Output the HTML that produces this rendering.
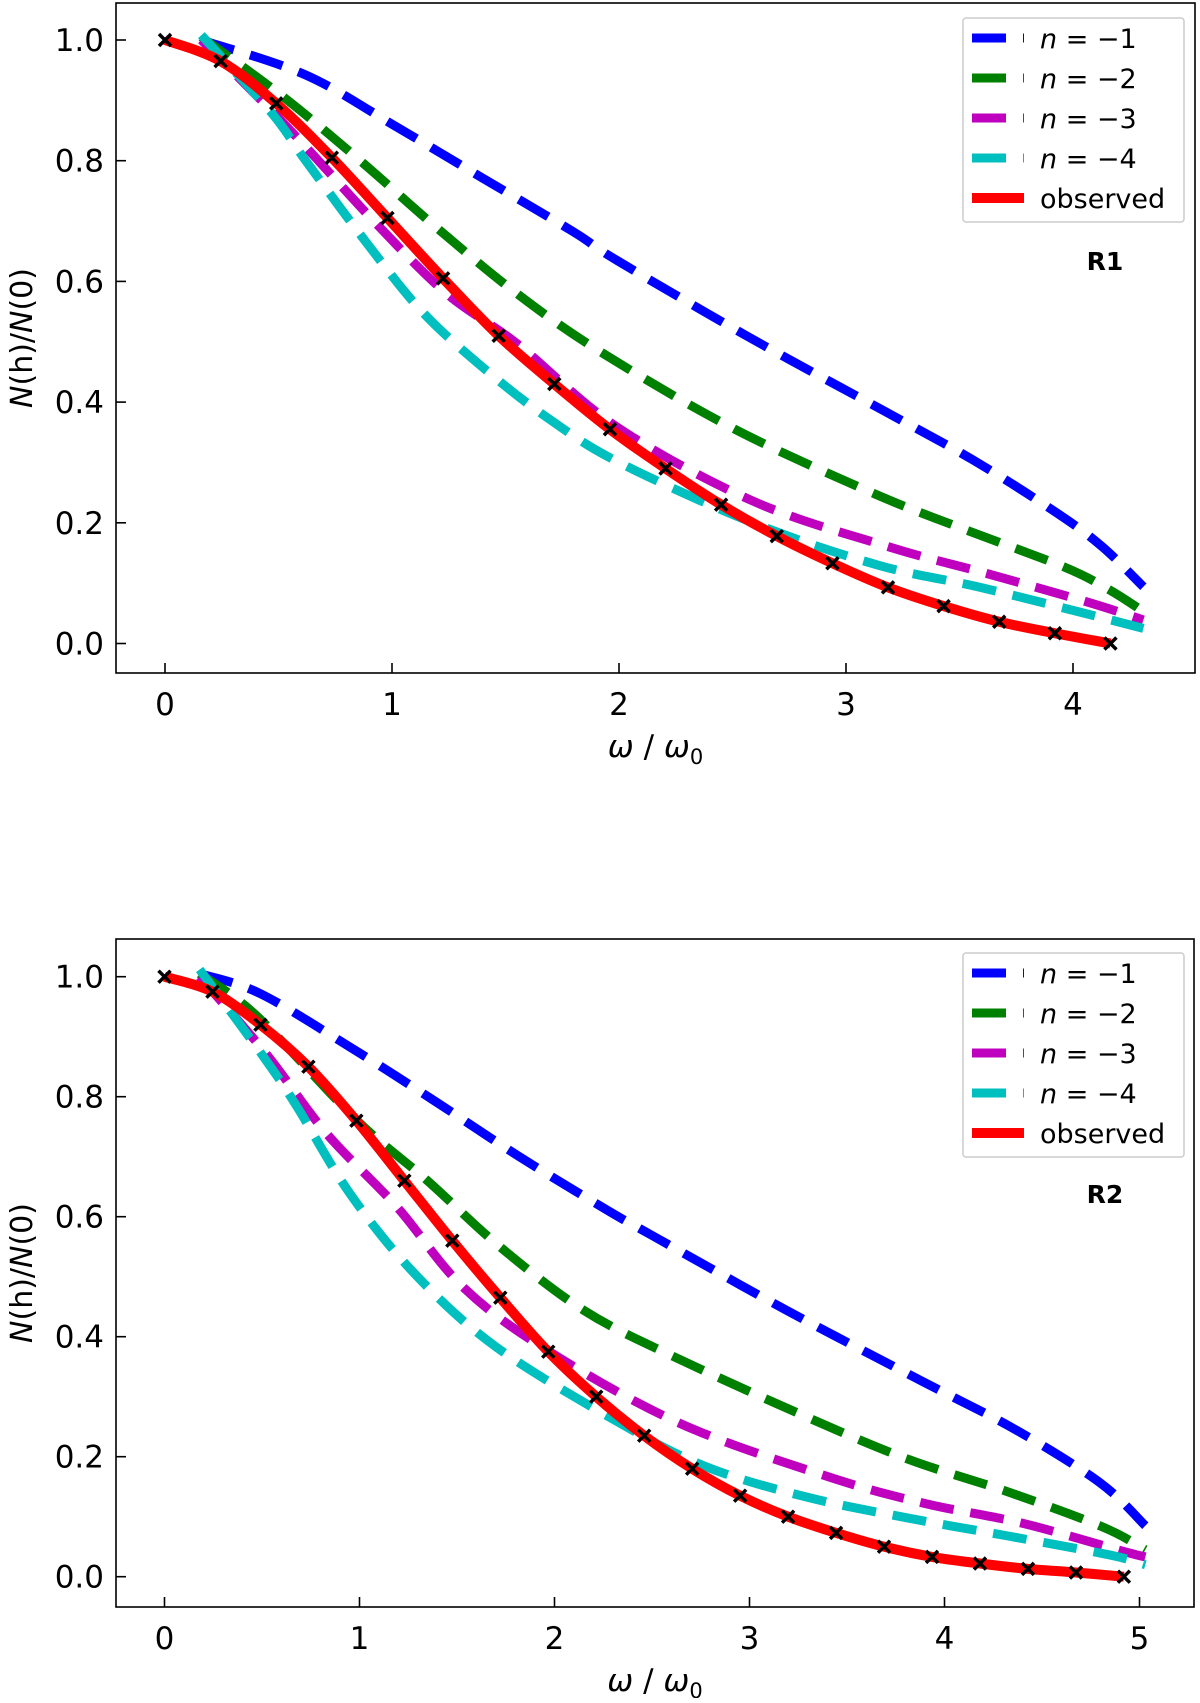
<!DOCTYPE html>
<html><head><meta charset="utf-8"><style>
body{margin:0;background:#fff;}
svg text{font-family:"DejaVu Sans","Liberation Sans",sans-serif;}
</style></head><body>
<svg id="chart" width="1200" height="1698" viewBox="0 0 1200 1698" xmlns="http://www.w3.org/2000/svg"></svg>
<script>
// ---- Panel R1 data ----
const r1N1X = [0.16,0.62,1.02,1.40,1.80,1.99,2.58,3.16,3.56,3.93,4.13,4.31];
const r1N1 = [1.0,0.942,0.856,0.771,0.682,0.635,0.506,0.387,0.304,0.216,0.16,0.094];
const r1N2X = [0.16,0.52,0.86,1.20,1.55,1.92,2.50,3.12,3.53,3.96,4.16,4.31];
const r1N2 = [1.005,0.906,0.80,0.688,0.58,0.483,0.357,0.249,0.188,0.127,0.089,0.053];
const r1N3X = [0.16,0.45,0.62,0.93,1.24,1.55,1.99,2.59,3.19,3.62,4.06,4.31];
const r1N3 = [1.0,0.89,0.823,0.696,0.58,0.497,0.359,0.236,0.16,0.116,0.069,0.039];
const r1N4X = [0.16,0.47,0.62,0.89,1.14,1.43,1.70,2.0,2.59,3.14,3.58,4.02,4.31];
const r1N4 = [1.008,0.879,0.80,0.663,0.547,0.448,0.37,0.30,0.2,0.13,0.094,0.053,0.025];
const r1ObsX = [0,0.245,0.49,0.735,0.98,1.225,1.47,1.715,1.96,2.205,2.45,2.695,2.94,3.185,3.43,3.675,3.92,4.165];
const r1Obs = [1.0,0.965,0.895,0.805,0.705,0.605,0.51,0.43,0.355,0.29,0.23,0.178,0.133,0.093,0.062,0.036,0.017,0.0];
// ---- Panel R2 data ----
const r2N1X = [0.18,0.49,0.95,1.38,1.82,2.27,2.51,3.19,3.89,4.37,4.80,5.03];
const r2N1 = [1.005,0.972,0.883,0.794,0.70,0.611,0.567,0.444,0.325,0.244,0.156,0.085];
const r2N2X = [0.18,0.475,0.985,1.345,1.72,2.15,2.61,3.33,3.82,4.32,4.81,5.03];
const r2N2 = [1.005,0.934,0.761,0.661,0.55,0.444,0.367,0.261,0.195,0.142,0.083,0.045];
const r2N3X = [0.18,0.52,0.83,1.19,1.53,1.96,2.64,3.40,3.90,4.40,4.92,5.03];
const r2N3 = [1.0,0.872,0.739,0.617,0.483,0.378,0.256,0.167,0.122,0.089,0.042,0.033];
const r2N4X = [0.18,0.52,0.68,0.95,1.28,1.70,2.33,2.78,3.29,3.81,4.34,4.85,5.03];
const r2N4 = [1.012,0.861,0.783,0.639,0.506,0.383,0.257,0.183,0.133,0.098,0.067,0.036,0.02];
const r2ObsX = [0,0.246,0.492,0.738,0.984,1.23,1.476,1.722,1.968,2.214,2.46,2.706,2.952,3.198,3.444,3.69,3.936,4.182,4.428,4.674,4.92];
const r2Obs = [1.0,0.975,0.92,0.85,0.76,0.66,0.56,0.465,0.375,0.30,0.235,0.18,0.135,0.10,0.073,0.05,0.033,0.022,0.013,0.007,0.0];
const yTicks = [0,0.2,0.4,0.6,0.8,1.0];
const yTickLabels = ["0.0","0.2","0.4","0.6","0.8","1.0"];
const r1XTicks = [0,1,2,3,4];
const r2XTicks = [0,1,2,3,4,5];
const legendLabels = ["n = \u22121","n = \u22122","n = \u22123","n = \u22124","observed"];
const colors = ["#0000ff","#008000","#bf00bf","#00bfbf","#ff0000"];

const NS="http://www.w3.org/2000/svg";
const svg=document.getElementById('chart');
function mk(tag,attrs,parent){const e=document.createElementNS(NS,tag);for(const k in attrs)e.setAttribute(k,attrs[k]);(parent||svg).appendChild(e);return e;}
function smoothPath(pts){
  let d=`M${pts[0][0]},${pts[0][1]}`;
  for(let i=0;i<pts.length-1;i++){
    const p0=pts[i-1]||pts[i],p1=pts[i],p2=pts[i+1],p3=pts[i+2]||p2;
    const c1=[p1[0]+(p2[0]-p0[0])/6,p1[1]+(p2[1]-p0[1])/6];
    const c2=[p2[0]-(p3[0]-p1[0])/6,p2[1]-(p3[1]-p1[1])/6];
    d+=` C${c1[0]},${c1[1]} ${c2[0]},${c2[1]} ${p2[0]},${p2[1]}`;
  }
  return d;
}
function panel(cfg){
  const g=mk('g',{});
  
  
  const sx=v=>cfg.x0+v*cfg.xu, sy=v=>cfg.y0-v*cfg.yu;
  const sNames=['series-n-1','series-n-2','series-n-3','series-n-4'];
  cfg.series.forEach((s,i)=>{
    const p=mk('path',{d:smoothPath(s[0].map((x,j)=>[sx(x),sy(s[1][j])])),fill:'none',stroke:colors[i],'stroke-width':9,'stroke-dasharray':'34 17'},g);
    
    
  });
  const obs=mk('path',{d:smoothPath(cfg.ox.map((x,j)=>[sx(x),sy(cfg.obs[j])])),fill:'none',stroke:colors[4],'stroke-width':10},g);
  
  
  cfg.ox.forEach((x,j)=>{
    const cx=sx(x),cy=sy(cfg.obs[j]);
    const m=mk('path',{d:`M${cx-6},${cy-6}L${cx+6},${cy+6}M${cx-6},${cy+6}L${cx+6},${cy-6}`,stroke:'#000','stroke-width':3.5},g);
    
    
  });
  const frame=mk('rect',{x:cfg.L,y:cfg.T,width:cfg.R-cfg.L,height:cfg.B-cfg.T,fill:'none',stroke:'#000','stroke-width':1.6},g);
  
  
  yTicks.forEach((v,i)=>{
    const y=sy(v);
    mk('line',{x1:cfg.L,x2:cfg.L+10,y1:y,y2:y,stroke:'#000','stroke-width':1.6},g);
    const t=mk('text',{x:cfg.L-12,y:y+11,'text-anchor':'end','font-size':31},g);
    t.textContent=yTickLabels[i];
    
    
  });
  cfg.xt.forEach(v=>{
    const x=sx(v);
    mk('line',{x1:x,x2:x,y1:cfg.B,y2:cfg.B-10,stroke:'#000','stroke-width':1.6},g);
    const t=mk('text',{x:x,y:cfg.B+42,'text-anchor':'middle','font-size':31},g);
    t.textContent=v;
    
    
  });
  const xl=mk('text',{x:(cfg.L+cfg.R)/2,y:cfg.B+84,'text-anchor':'middle','font-size':31},g);
  xl.innerHTML='<tspan font-style="italic">ω</tspan> / <tspan font-style="italic">ω</tspan><tspan font-size="21" dy="7">0</tspan>';
  
  
  const yc=(cfg.T+cfg.B)/2;
  const yl=mk('text',{x:0,y:0,'text-anchor':'middle','font-size':30,transform:`translate(32,${yc}) rotate(-90)`},g);
  yl.innerHTML='<tspan font-style="italic">N</tspan>(h)/<tspan font-style="italic">N</tspan>(0)';
  
  
  const lg=mk('g',{},g);
  
  
  mk('rect',{x:963,y:cfg.LT,width:221,height:204,fill:'#fff',stroke:'#ccc','stroke-width':1.5,rx:3},lg);
  legendLabels.forEach((lab,i)=>{
    const y=cfg.LT+20+i*40;
    mk('line',{x1:972,x2:1024,y1:y,y2:y,stroke:colors[i],'stroke-width':i==4?10:9,'stroke-dasharray':i==4?'none':'34 17'},lg);
    const t=mk('text',{x:1040,y:y+10,'font-size':27},lg);
    if(i<4) t.innerHTML='<tspan font-style="italic">n</tspan> = \u2212'+(i+1); else t.textContent=lab;
    
    
  });
  const pl=mk('text',{x:1105,y:cfg.lblY,'text-anchor':'middle','font-size':25,'font-weight':'bold'},g);
  pl.textContent=cfg.label;
  
  
}
panel({name:'panel-r1',L:116,R:1195,T:3,B:673,x0:165,xu:227,y0:643.5,yu:603.5,
  series:[[r1N1X,r1N1],[r1N2X,r1N2],[r1N3X,r1N3],[r1N4X,r1N4]],
  ox:r1ObsX,obs:r1Obs,xt:r1XTicks,LT:18,label:'R1',lblY:270});
panel({name:'panel-r2',L:116,R:1194,T:939,B:1607,x0:164.5,xu:195,y0:1576.7,yu:600,
  series:[[r2N1X,r2N1],[r2N2X,r2N2],[r2N3X,r2N3],[r2N4X,r2N4]],
  ox:r2ObsX,obs:r2Obs,xt:r2XTicks,LT:953,label:'R2',lblY:1203});
</script>
</body></html>
